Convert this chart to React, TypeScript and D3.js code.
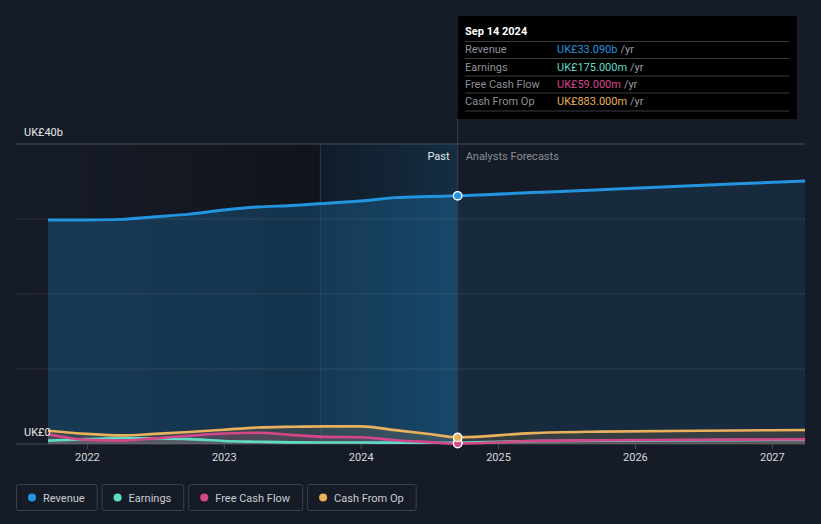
import React from "react";
import * as d3 from "d3";

const W = 821;
const H = 524;

const pastDates = ["2021-09-18", "2021-12-31", "2022-03-31", "2022-06-30", "2022-09-30", "2022-12-31", "2023-03-31", "2023-06-30", "2023-09-30", "2023-12-31", "2024-03-31", "2024-06-30", "2024-09-14"];
const revenuePast = [29.87, 29.88, 29.95, 30.3, 30.65, 31.2, 31.6, 31.8, 32.1, 32.4, 32.85, 33.0, 33.09];
const earningsPast = [0.45, 0.65, 0.8, 0.75, 0.65, 0.4, 0.3, 0.22, 0.2, 0.2, 0.18, 0.17, 0.175];
const fcfPast = [1.3, 0.55, 0.45, 0.75, 1.1, 1.4, 1.5, 1.22, 0.95, 0.9, 0.5, 0.25, 0.059];
const cfoPast = [1.77, 1.35, 1.15, 1.35, 1.6, 1.9, 2.2, 2.3, 2.35, 2.35, 1.85, 1.33, 0.883];

const forecastDates = ["2024-09-14", "2025-03-31", "2025-09-30", "2026-09-30", "2027-03-29"];
const revenueFc = [33.09, 33.52, 33.91, 34.69, 35.07];
const earningsFc = [0.175, 0.38, 0.45, 0.52, 0.55];
const fcfFc = [0.059, 0.4, 0.5, 0.58, 0.62];
const cfoFc = [0.883, 1.45, 1.65, 1.8, 1.87];

const yearTicks = ["2022", "2023", "2024", "2025", "2026", "2027"];
const yTickValues = [0, 10, 20, 30, 40];
const yLabels = [{ v: 40, t: "UK£40b" }, { v: 0, t: "UK£0" }];

const seriesNames = ["Revenue", "Earnings", "Free Cash Flow", "Cash From Op"];
const seriesColors = ["#2394df", "#5fdcc6", "#d5478a", "#e9b15b"];
const tooltipDate = "Sep 14 2024";
const tooltipValues = ["UK£33.090b", "UK£175.000m", "UK£59.000m", "UK£883.000m"];
const highlightStart = "2023-09-14";

const FONT = "Roboto, 'Noto Sans', sans-serif";

const parse = d3.timeParse("%Y-%m-%d");

function measure(text: string, size: number) {
  if (typeof document === "undefined") return text.length * size * 0.5;
  const c = document.createElement("canvas").getContext("2d");
  if (!c) return text.length * size * 0.5;
  c.font = `${size}px Roboto`;
  return c.measureText(text).width;
}

export default function App() {
  const plotLeft = 16;
  const plotRight = 805;
  const x = d3
    .scaleTime()
    .domain([parse(pastDates[0])!, parse(forecastDates[forecastDates.length - 1])!])
    .range([48, 805]);
  const y = d3.scaleLinear().domain([0, 40]).range([444, 144]);

  const mk = (dates: string[], vals: number[]) => dates.map((d, i) => ({ d: parse(d)!, v: vals[i] }));
  const past = [revenuePast, earningsPast, fcfPast, cfoPast].map((v) => mk(pastDates, v));
  const fc = [revenueFc, earningsFc, fcfFc, cfoFc].map((v) => mk(forecastDates, v));
  const full = past.map((p, i) => p.concat(fc[i].slice(1)));

  const line = d3
    .line<{ d: Date; v: number }>()
    .x((p) => x(p.d))
    .y((p) => y(p.v))
    .curve(d3.curveMonotoneX);
  const area = d3
    .area<{ d: Date; v: number }>()
    .x((p) => x(p.d))
    .y0(y(0))
    .y1((p) => y(p.v))
    .curve(d3.curveMonotoneX);

  const nowX = x(parse(pastDates[pastDates.length - 1])!);
  const hlX = x(parse(highlightStart)!);

  // legend layout
  let lx = 16;
  const legend = seriesNames.map((n, i) => {
    const tw = measure(n, 11);
    const w = 27 + tw + 12;
    const item = { n, c: seriesColors[i], x: lx, w };
    lx += w + 5;
    return item;
  });

  const order = [1, 2, 3];

  return (
    <svg width={W} height={H} style={{ position: "absolute", left: 0, top: 0, fontFamily: FONT }}>
      <defs>
        <linearGradient id="pastShade" x1="0" x2="1" y1="0" y2="0">
          <stop offset="0" stopColor="#000" stopOpacity="0" />
          <stop offset="1" stopColor="#000" stopOpacity="0.28" />
        </linearGradient>
        <linearGradient id="hlShade" x1="0" x2="1" y1="0" y2="0">
          <stop offset="0" stopColor="#2394df" stopOpacity="0.06" />
          <stop offset="1" stopColor="#2394df" stopOpacity="0.2" />
        </linearGradient>
        <clipPath id="pastClip">
          <rect x={0} y={0} width={nowX} height={H} />
        </clipPath>
        <clipPath id="fcClip">
          <rect x={nowX} y={0} width={W - nowX} height={H} />
        </clipPath>
      </defs>
      <rect x={0} y={0} width={W} height={H} fill="#161c27" />
      <rect x={plotLeft} y={144} width={hlX - plotLeft} height={300} fill="url(#pastShade)" />
      <rect x={hlX} y={144} width={nowX - hlX} height={300} fill="#0f141c" opacity={0.9} />
      <rect x={hlX} y={144} width={nowX - hlX} height={300} fill="url(#hlShade)" />

      {/* revenue area */}
      <path d={area(full[0])!} fill="#2394df" opacity={0.25} clipPath="url(#pastClip)" />
      <path d={area(full[0])!} fill="#2394df" opacity={0.13} clipPath="url(#fcClip)" />

      {/* gridlines */}
      {yTickValues.map((v) => (
        <line
          key={v}
          x1={plotLeft}
          x2={plotRight}
          y1={y(v)}
          y2={y(v)}
          stroke={v === 40 ? "#464c55" : v === 0 ? "#454b54" : "#ffffff"}
          strokeOpacity={v === 40 || v === 0 ? 1 : 0.09}
          strokeWidth={1}
        />
      ))}
      <line x1={hlX} x2={hlX} y1={144} y2={444} stroke="#2a5577" strokeOpacity={0.6} />
      <line x1={nowX} x2={nowX} y1={119} y2={444} stroke="#2d4055" strokeWidth={1} />

      {/* small series areas */}
      {order.map((i) => (
        <path key={"a" + i} d={area(full[i])!} fill={seriesColors[i]} opacity={0.15} />
      ))}

      {/* revenue line */}
      <path d={line(full[0])!} fill="none" stroke={seriesColors[0]} strokeWidth={3} />
      {order.map((i) => (
        <path key={"l" + i} d={line(full[i])!} fill="none" stroke={seriesColors[i]} strokeWidth={2.6} />
      ))}

      {/* markers */}
      {[1, 2, 3, 0].map((i) => (
        <circle
          key={"m" + i}
          cx={nowX}
          cy={y(past[i][past[i].length - 1].v)}
          r={4.2}
          fill={seriesColors[i]}
          stroke="#ffffff"
          strokeWidth={1.4}
        />
      ))}

      {/* axis ticks & labels */}
      {yearTicks.map((t) => {
        const xx = x(parse(t + "-01-01")!);
        return (
          <g key={t}>
            <line x1={xx} x2={xx} y1={444} y2={449} stroke="#454b54" />
            <text x={xx} y={461} textAnchor="middle" fontSize={11} fill="#d5d8dc">
              {t}
            </text>
          </g>
        );
      })}
      {yLabels.map((l) => (
        <text key={l.t} x={24} y={y(l.v) - 8} fontSize={11} fill="#e6e8ea">
          {l.t}
        </text>
      ))}

      <text x={nowX - 8} y={160} textAnchor="end" fontSize={11} fill="#e6e8ea">
        Past
      </text>
      <text x={nowX + 8} y={160} fontSize={11} fill="#868c95">
        Analysts Forecasts
      </text>

      {/* tooltip */}
      <rect x={458} y={16} width={339} height={103} fill="#000000" />
      <text x={465} y={35} fontSize={11} fontWeight="bold" fill="#ffffff">
        {tooltipDate}
      </text>
      {[41.5, 58.5, 76, 93, 111].map((ly) => (
        <line key={ly} x1={465} x2={789} y1={ly} y2={ly} stroke="#3a3d42" strokeWidth={1} />
      ))}
      {seriesNames.map((n, i) => {
        const ry = 53.3 + i * 17.3;
        const vw = measure(tooltipValues[i], 11);
        return (
          <g key={n}>
            <text x={465} y={ry} fontSize={11} fill="#8c9096">
              {n}
            </text>
            <text x={557} y={ry} fontSize={11} fill={seriesColors[i]}>
              {tooltipValues[i]}
            </text>
            <text x={557 + vw + 3} y={ry} fontSize={11} fill="#9a9ea4">
              /yr
            </text>
          </g>
        );
      })}

      {/* legend */}
      {legend.map((l) => (
        <g key={l.n}>
          <rect x={l.x + 0.5} y={484.5} width={l.w} height={26} rx={2} fill="none" stroke="#3b424c" />
          <circle cx={l.x + 16} cy={497.5} r={4} fill={l.c} />
          <text x={l.x + 27} y={501.5} fontSize={11} fill="#c9ccd1">
            {l.n}
          </text>
        </g>
      ))}
    </svg>
  );
}
